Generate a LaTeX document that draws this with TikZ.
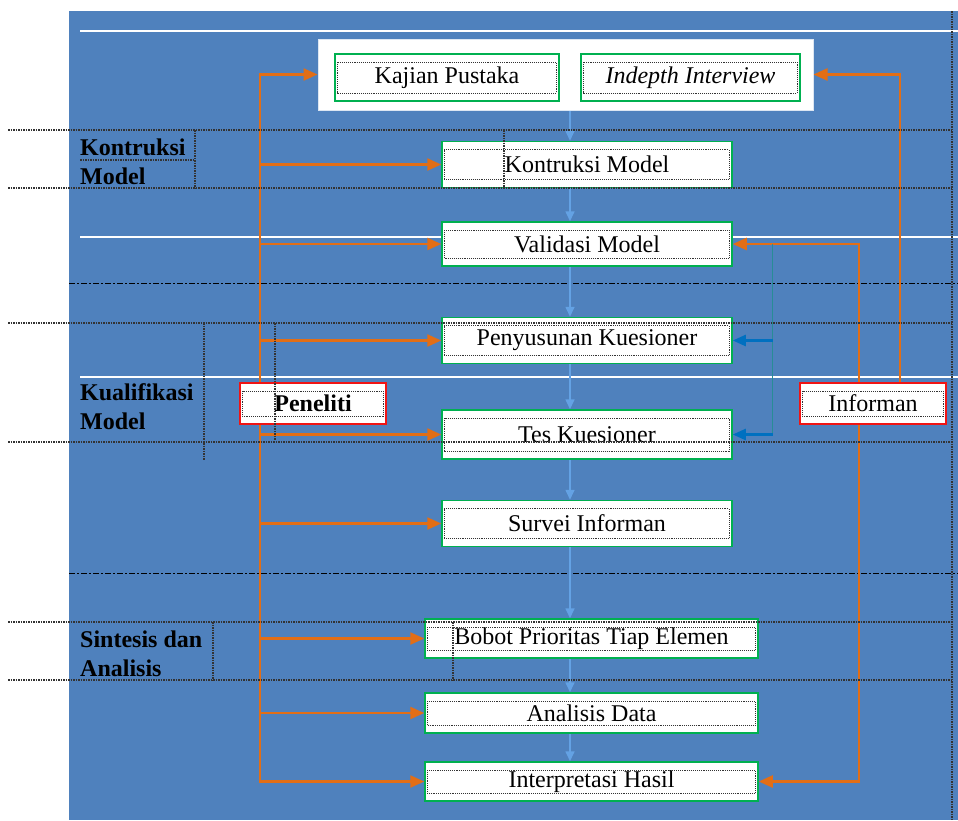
\documentclass[tikz,border=0pt]{standalone}
\usepackage{fontspec}
\setmainfont{Liberation Serif}
\usetikzlibrary{arrows.meta,backgrounds}
\definecolor{bgblue}{RGB}{79,129,189}
\definecolor{boxgreen}{RGB}{0,176,80}
\definecolor{boxred}{RGB}{240,20,20}
\definecolor{flowblue}{RGB}{100,162,228}
\definecolor{linkorange}{RGB}{226,110,22}
\definecolor{linkblue}{RGB}{0,112,192}
\definecolor{linkteal}{RGB}{40,140,150}
\begin{document}
\begin{tikzpicture}[x=1pt, y=-1pt, font=\fontsize{24}{29}\selectfont]
      \tikzset{
	  stepbox/.style={rectangle, draw=boxgreen, fill=white, line width=1.5pt, minimum width=290pt, minimum height=46pt, inner sep=0pt, text centered,
	    path picture={\draw[densely dotted, black!80, line width=0.9pt] ([xshift=2pt,yshift=-8pt]path picture bounding box.north west) rectangle ([xshift=-3pt,yshift=8pt]path picture bounding box.south east);}},
	  widebox/.style={stepbox, minimum width=333pt, minimum height=39pt},
	  actorbox/.style={stepbox, draw=boxred, minimum width=146pt, minimum height=41pt},
	  groupbox/.style={rectangle, fill=white, draw=white!80!bgblue, line width=1pt, minimum width=495pt, minimum height=71pt},
	  sidelabel/.style={anchor=north west, inner sep=0pt, align=left, font=\fontsize{24}{29}\selectfont\bfseries},
	  flow/.style={draw=flowblue, line width=1.6pt, -{Triangle[length=10pt,width=9pt]}},
	  feed/.style={draw=linkorange, line width=2.4pt, -{Triangle[length=14pt,width=12pt]}},
	  ask/.style={draw=linkblue, line width=2.4pt, -{Triangle[length=13pt,width=11pt]}},
	  rule/.style={white, line width=1.8pt},
	  split/.style={black, line width=1pt, dash pattern=on 6pt off 2pt on 2pt off 2pt},
	  ghost/.style={densely dotted, black!80, line width=1.5pt}
      }
      \useasboundingbox (0,0) rectangle (958,820);

      \node at (565.5, 74.5) [groupbox] (sources) {};
      \node at (447, 77.5) [stepbox, minimum width=224pt, minimum height=47pt] (kajian) {Kajian Pustaka};
      \node at (690.5, 77.5) [stepbox, minimum width=219pt, minimum height=47pt] (indepth) {\itshape Indepth Interview};

      \node at (587, 164.5) [stepbox] (kontruksi) {Kontruksi Model};
      \node at (587, 244) [stepbox, minimum height=44pt] (validasi) {Validasi Model};
      \node at (587, 340.5) [stepbox] (penyusunan) {Penyusunan Kuesioner};
      \node at (587, 434.5) [stepbox, minimum height=49pt] (tes) {Tes Kuesioner};
      \node at (587, 523.5) [stepbox] (survei) {Survei Informan};
      \node at (591.5, 638.5) [widebox] (bobot) {Bobot Prioritas Tiap Elemen};
      \node at (591.5, 713) [widebox, minimum height=40pt] (analisis) {Analisis Data};
      \node at (591.5, 781.5) [widebox] (interpretasi) {Interpretasi Hasil};

      \node at (313, 403.5) [actorbox] (peneliti) {\bfseries Peneliti};
      \node at (873, 403.5) [actorbox] (informan) {Informan};

      \node at (80, 139) [sidelabel] (lblkontruksi) {Kontruksi\\Model};
      \node at (80, 383) [sidelabel] (lblkualifikasi) {Kualifikasi\\Model};
      \node at (80, 631) [sidelabel] (lblsintesis) {Sintesis dan\\Analisis};

      \coordinate (axis) at (570, 0);
      \coordinate (spine) at ([xshift=-53pt]peneliti.center);
      \coordinate (back) at ([xshift=-14pt]informan.center);
      \coordinate (probe) at ([xshift=40pt]validasi.east);

      \begin{scope}[on background layer]
	\fill[bgblue] (69,11) rectangle (958,820);
	\draw[rule] (80,31) -- (958,31);
	\draw[rule] (80,237) -- (958,237);
	\draw[rule] (80,377) -- (958,377);
	\draw[split] (69,283) -- (958,283);
	\draw[split] (69,573) -- (958,573);

	\draw[flowblue!55!white, line width=1.2pt] (kajian.east) -- (indepth.west);
	\foreach \a/\b in {sources/kontruksi, kontruksi/validasi, validasi/penyusunan, penyusunan/tes, tes/survei, survei/bobot, bobot/analisis, analisis/interpretasi}
	  \draw[flow] (\a.south -| axis) -- (\b.north -| axis);

	\foreach \t in {sources, kontruksi, validasi, penyusunan, tes, survei, bobot, analisis, interpretasi}
	  \draw[feed] (spine) |- (\t.west);
	\draw[feed] ([xshift=27pt]informan.north) |- (sources.east);
	\draw[feed] (back) |- (validasi.east);
	\draw[feed] (back) |- (interpretasi.east);

	\draw[linkteal, line width=1.2pt] (probe) -- (probe |- tes.east);
	\draw[ask] (probe |- penyusunan.east) -- (penyusunan.east);
	\draw[ask] (probe |- tes.east) -- (tes.east);
      \end{scope}

      \foreach \y in {130, 188, 323, 442, 622, 680}
	\draw[ghost] (8,\y) -- (952,\y);
      \draw[ghost] (952,11) -- (952,820);
      \draw[ghost] (80,160) -- (195,160);
      \draw[ghost] (195,130) -- (195,188);
      \draw[ghost] (504,130) -- (504,188);
      \draw[ghost] (204,323) -- (204,460);
      \draw[ghost] (275,323) -- (275,440);
      \draw[ghost] (213,622) -- (213,680);
      \draw[ghost] (453,622) -- (453,680);
    \end{tikzpicture}
\end{document}
